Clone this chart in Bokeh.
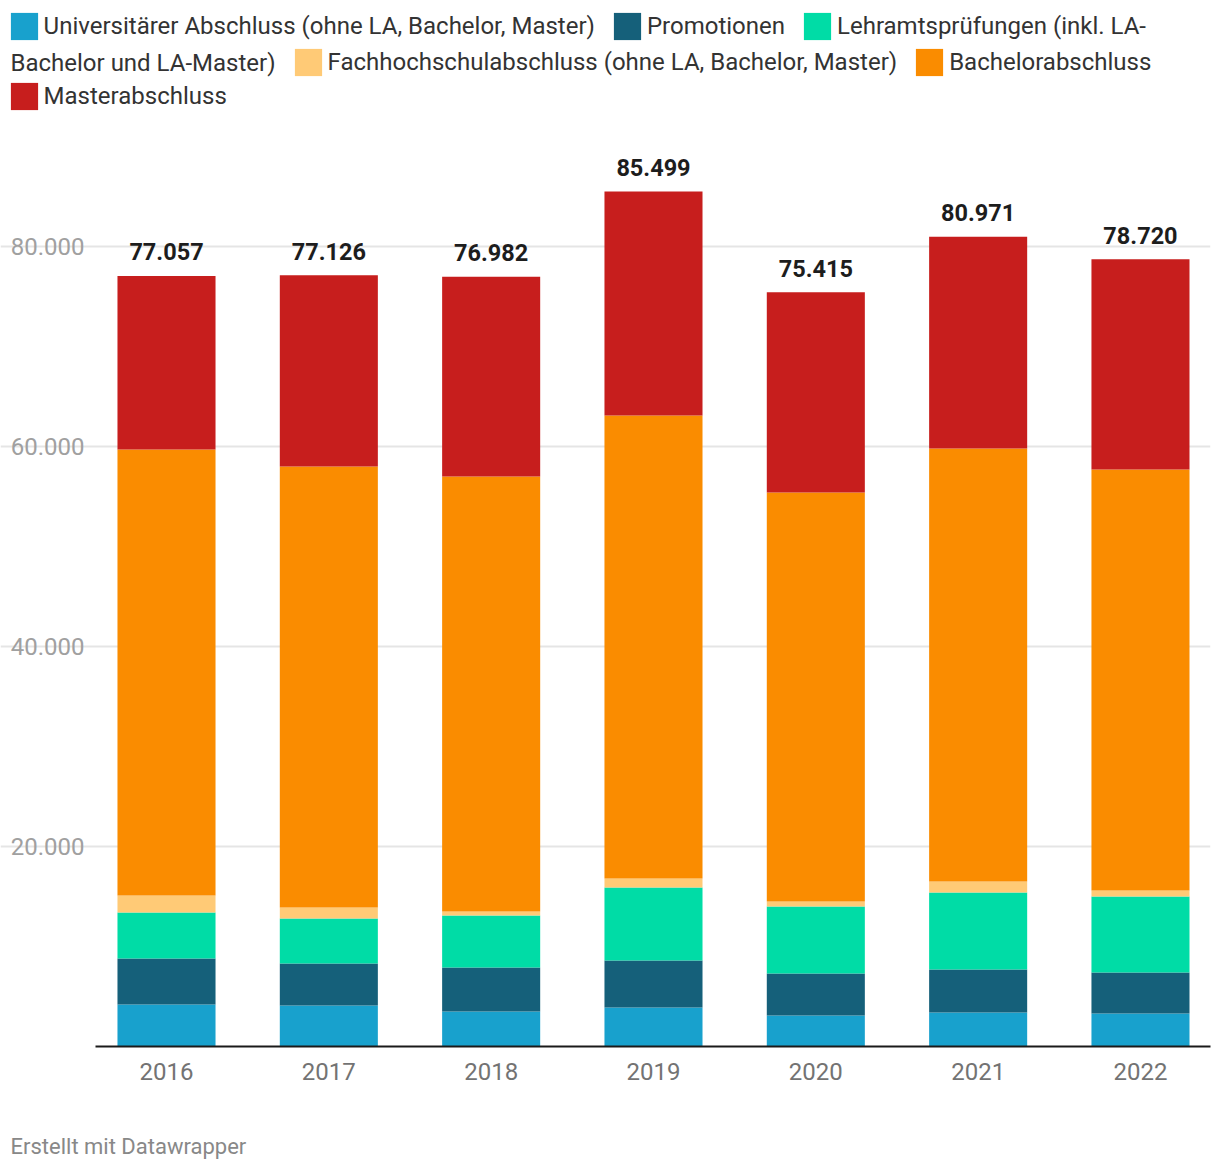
from bokeh.plotting import figure
from bokeh.layouts import column
from bokeh.models import (ColumnDataSource, FixedTicker, Range1d, Legend, LegendItem, Label, Grid)
from bokeh.core.properties import value
from bokeh.embed import file_html
from bokeh.resources import INLINE

# ---- data ----
years = ["2016", "2017", "2018", "2019", "2020", "2021", "2022"]
universitaer = [4200, 4100, 3500, 3900, 3100, 3400, 3300]
promotionen = [4600, 4200, 4400, 4700, 4200, 4300, 4100]
lehramt = [4600, 4500, 5200, 7300, 6700, 7700, 7600]
fachhochschule = [1700, 1100, 400, 900, 500, 1100, 600]
bachelor = [44600, 44100, 43500, 46300, 40900, 43300, 42100]
master = [17357, 19126, 19982, 22399, 20015, 21171, 21020]
y_ticks = [20000, 40000, 60000, 80000]

series_keys = ["univ", "promo", "lehr", "fh", "bach", "mast"]
series_labels = [
    "Universitärer Abschluss (ohne LA, Bachelor, Master)",
    "Promotionen",
    "Lehramtsprüfungen (inkl. LA-",
    "Fachhochschulabschluss (ohne LA, Bachelor, Master)",
    "Bachelorabschluss",
    "Masterabschluss",
]
legend_wrap_text = "Bachelor und LA-Master)"
footer_text = "Erstellt mit Datawrapper"
colors = ["#18a1cd", "#15607a", "#00dca6", "#ffca76", "#fa8c00", "#c71e1d"]


def de(n):
    return f"{n:,}".replace(",", ".")


xs = list(range(len(years)))
totals = [sum(v) for v in zip(universitaer, promotionen, lehramt, fachhochschule, bachelor, master)]
source = ColumnDataSource(dict(
    x=xs, univ=universitaer, promo=promotionen, lehr=lehramt, fh=fachhochschule,
    bach=bachelor, mast=master, total=totals, total_label=[de(t) for t in totals],
))

FONT = "Roboto"
W = 1216
CHART_H, FOOT_H = 1110, 56
FRAME_BOTTOM = 1046          # page y of the value axis baseline
PX_PER_CAT = 162.33          # pixel distance between bar centres
FIRST_CENTER = 166           # page x of first bar centre
PLOT_LEFT, PLOT_RIGHT = 95, 1210
PX_PER_UNIT_Y = 0.01         # pixels per unit value

# legend swatch geometry (Bokeh insets area swatches by 10% on each side)
GLYPH = 34
INSET = GLYPH * 0.1


def x_of(px):
    return (px - FIRST_CENTER) / PX_PER_CAT


# ---------------- chart figure (frame spans the full width / top) ----------------
p = figure(width=W, height=CHART_H, output_backend="svg", toolbar_location=None, tools="",
           x_range=Range1d(x_of(0), x_of(PLOT_RIGHT)),
           y_range=Range1d(0, FRAME_BOTTOM / PX_PER_UNIT_Y),
           y_axis_type=None,
           min_border_left=0, min_border_right=W - PLOT_RIGHT, min_border_top=0,
           min_border_bottom=CHART_H - FRAME_BOTTOM)
p.outline_line_color = None
p.xgrid.grid_line_color = None

grid = Grid(dimension=1, ticker=FixedTicker(ticks=y_ticks),
            bounds=(x_of(PLOT_LEFT), x_of(PLOT_RIGHT)),
            grid_line_color="#e5e5e5", grid_line_width=2)
p.add_layout(grid)

renderers = p.vbar_stack(series_keys, x="x", width=0.604, color=colors, line_color=None,
                         source=source)

p.text(x="x", y="total", text="total_label", source=source, text_align="center",
       text_baseline="middle", y_offset=-24, text_font=value(FONT),
       text_font_size="23.5px", text_font_style="bold", text_color="#1d1d1d")

# value-axis tick labels
ytick_src = ColumnDataSource(dict(y=y_ticks, x=[x_of(84)] * len(y_ticks),
                                  label=[de(t) for t in y_ticks]))
p.text(x="x", y="y", text="label", source=ytick_src, text_align="right",
       text_baseline="middle", text_font=value(FONT), text_font_size="24px",
       text_color="#a0a0a0")

p.xaxis.ticker = FixedTicker(ticks=xs)
p.xaxis.bounds = (x_of(PLOT_LEFT), x_of(PLOT_RIGHT))
p.xaxis.major_label_overrides = {i: y for i, y in enumerate(years)}
p.xaxis.axis_line_color = "#1a1a1a"
p.xaxis.axis_line_width = 2
p.xaxis.major_tick_line_color = None
p.xaxis.minor_tick_line_color = None
p.xaxis.major_tick_out = 0
p.xaxis.major_label_standoff = 16
p.xaxis.major_label_text_font = FONT
p.xaxis.major_label_text_font_size = "24px"
p.xaxis.major_label_text_color = "#737373"

# legend rows (screen units relative to the frame's bottom-left)
items = [LegendItem(label=l, renderers=[r]) for l, r in zip(series_labels, renderers)]


def make_legend(its, swatch_left, swatch_bottom):
    lg = Legend(items=its, orientation="horizontal",
                location=(swatch_left - INSET, FRAME_BOTTOM - swatch_bottom - INSET),
                glyph_width=GLYPH, glyph_height=GLYPH,
                label_standoff=3, spacing=15,
                padding=0, margin=0, border_line_color=None, background_fill_alpha=0,
                label_text_font=FONT, label_text_font_size="24px",
                label_text_color="#333333", label_height=GLYPH)
    p.add_layout(lg, "center")


make_legend(items[0:3], 10, 40)
make_legend(items[3:5], 294, 76)
make_legend(items[5:6], 10, 110)
p.add_layout(Label(x=10, y=FRAME_BOTTOM - 62, x_units="screen", y_units="screen",
                   text=legend_wrap_text, text_baseline="middle",
                   text_font=FONT, text_font_size="24px", text_color="#333333"))

# ---------------- footer figure ----------------
pf = figure(width=W, height=FOOT_H, output_backend="svg", toolbar_location=None, tools="",
            x_range=Range1d(0, W), y_range=Range1d(0, FOOT_H),
            x_axis_type=None, y_axis_type=None, min_border=0,
            min_border_right=W - PLOT_RIGHT)
pf.outline_line_color = None
pf.grid.visible = False
pf.add_layout(Label(x=10, y=FOOT_H - 36, x_units="screen", y_units="screen",
                    text=footer_text, text_baseline="middle",
                    text_font=FONT, text_font_size="22px", text_color="#888888"))

layout = column(p, pf, spacing=0)
open("out.html", "w").write(file_html(layout, INLINE))
